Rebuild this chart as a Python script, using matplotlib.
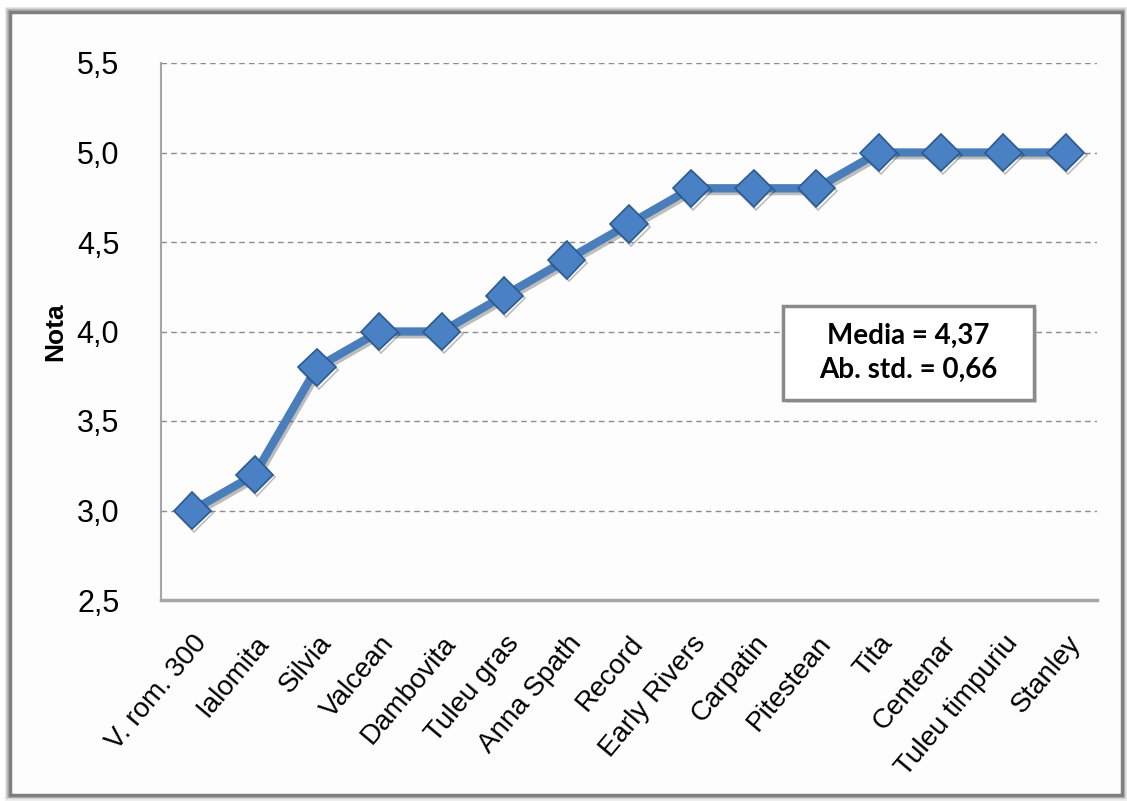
import matplotlib as mpl
mpl.use('Agg')
import matplotlib.pyplot as plt
import matplotlib.patches as mpatches
import matplotlib.patheffects as pe
import matplotlib.ticker as plticker

soiuri = ['V. rom. 300', 'Ialomita', 'Silvia', 'Valcean', 'Dambovita', 'Tuleu gras',
          'Anna Spath', 'Record', 'Early Rivers', 'Carpatin', 'Pitestean', 'Tita',
          'Centenar', 'Tuleu timpuriu', 'Stanley']
note = [3.0, 3.2, 3.8, 4.0, 4.0, 4.2, 4.4, 4.6, 4.8, 4.8, 4.8, 5.0, 5.0, 5.0, 5.0]
yticks = [2.5, 3.0, 3.5, 4.0, 4.5, 5.0, 5.5]
stat_text = 'Media = 4,37\nAb. std. = 0,66'

cline = '#4A7EBB'
cmark = '#4A80C4'
cedge = '#2C5A92'
cgrid = '#8C8C8C'
caxis = '#A6A6A6'

my_dpi = 100
fig = plt.figure(figsize=(1127/my_dpi, 801/my_dpi), dpi=my_dpi)
fig.patch.set_facecolor('white')

# outer chart frame with soft shadow
frame = (10/1127, 1 - 795/801, 1112/1127, 783/801)
for i, a in enumerate([0.10, 0.18, 0.30]):
    off = (3 - i) * 2
    fig.patches.append(mpatches.Rectangle(frame[:2], frame[2], frame[3],
                       transform=fig.transFigure, fill=False, lw=2 + off, ec='#606060',
                       alpha=a, zorder=-3))
fig.patches.append(mpatches.Rectangle(frame[:2], frame[2], frame[3],
                   transform=fig.transFigure, fc='#FDFDFD', ec='#7F7F7F', lw=2.5, zorder=-2))

ax = fig.add_axes([161/1127, 1 - 600/801, 936/1127, 537/801])
ax.set_facecolor('none')
x = list(range(len(soiuri)))
ax.plot(x, note, color=cline, linewidth=6, solid_joinstyle='round', zorder=3,
        marker='D', markersize=19, markerfacecolor=cmark, markeredgecolor=cedge,
        markeredgewidth=1.2,
        path_effects=[pe.SimpleLineShadow(offset=(1.5, -2), alpha=0.25), pe.Normal()])

ax.set_xlim(-0.5, len(soiuri) - 0.5)
ax.set_ylim(2.5, 5.5)
ax.set_yticks(yticks)
ax.yaxis.set_major_formatter(plticker.FuncFormatter(lambda v, p: '{:.1f}'.format(v).replace('.', ',')))
ax.set_xticks(x)
ax.set_xticklabels(soiuri, rotation=50, ha='right', va='top', rotation_mode='anchor',
                   fontsize=20, family='Liberation Sans')
for lab in ax.get_yticklabels():
    lab.set_fontsize(22)
    lab.set_family('Liberation Sans')
ax.tick_params(axis='both', length=0)
ax.tick_params(axis='y', pad=30)
ax.tick_params(axis='x', pad=22)

ax.grid(axis='y', linestyle=(0, (4, 3)), color=cgrid, linewidth=1)
ax.set_axisbelow(True)
ax.spines['top'].set_visible(False)
ax.spines['right'].set_visible(False)
ax.spines['left'].set_color(caxis)
ax.spines['left'].set_linewidth(1.5)
ax.spines['bottom'].set_color(caxis)
ax.spines['bottom'].set_linewidth(2.5)

fig.text(55/1127, 1 - 332/801, 'Nota', rotation=90, ha='center', va='center',
         fontsize=19, fontweight='bold', family='Liberation Sans')

# statistics box
bx0, bx1 = 0.6645, 0.9327
by0, by1 = 0.3724, 0.5475
ax.add_patch(mpatches.Rectangle((bx0 + 0.003, by0 - 0.006), bx1 - bx0, by1 - by0,
             transform=ax.transAxes, fc='#BBBBBB', ec='none', alpha=0.5, zorder=4))
ax.add_patch(mpatches.Rectangle((bx0, by0), bx1 - bx0, by1 - by0, transform=ax.transAxes,
             fc='white', ec='#8A8A8A', lw=2.5, zorder=5))
ax.text((bx0 + bx1) / 2, (by0 + by1) / 2, stat_text, transform=ax.transAxes,
        ha='center', va='center', fontsize=20, fontweight='bold', family='Lato',
        linespacing=1.4, zorder=6)

plt.savefig('out.png', dpi=my_dpi, facecolor='white')
